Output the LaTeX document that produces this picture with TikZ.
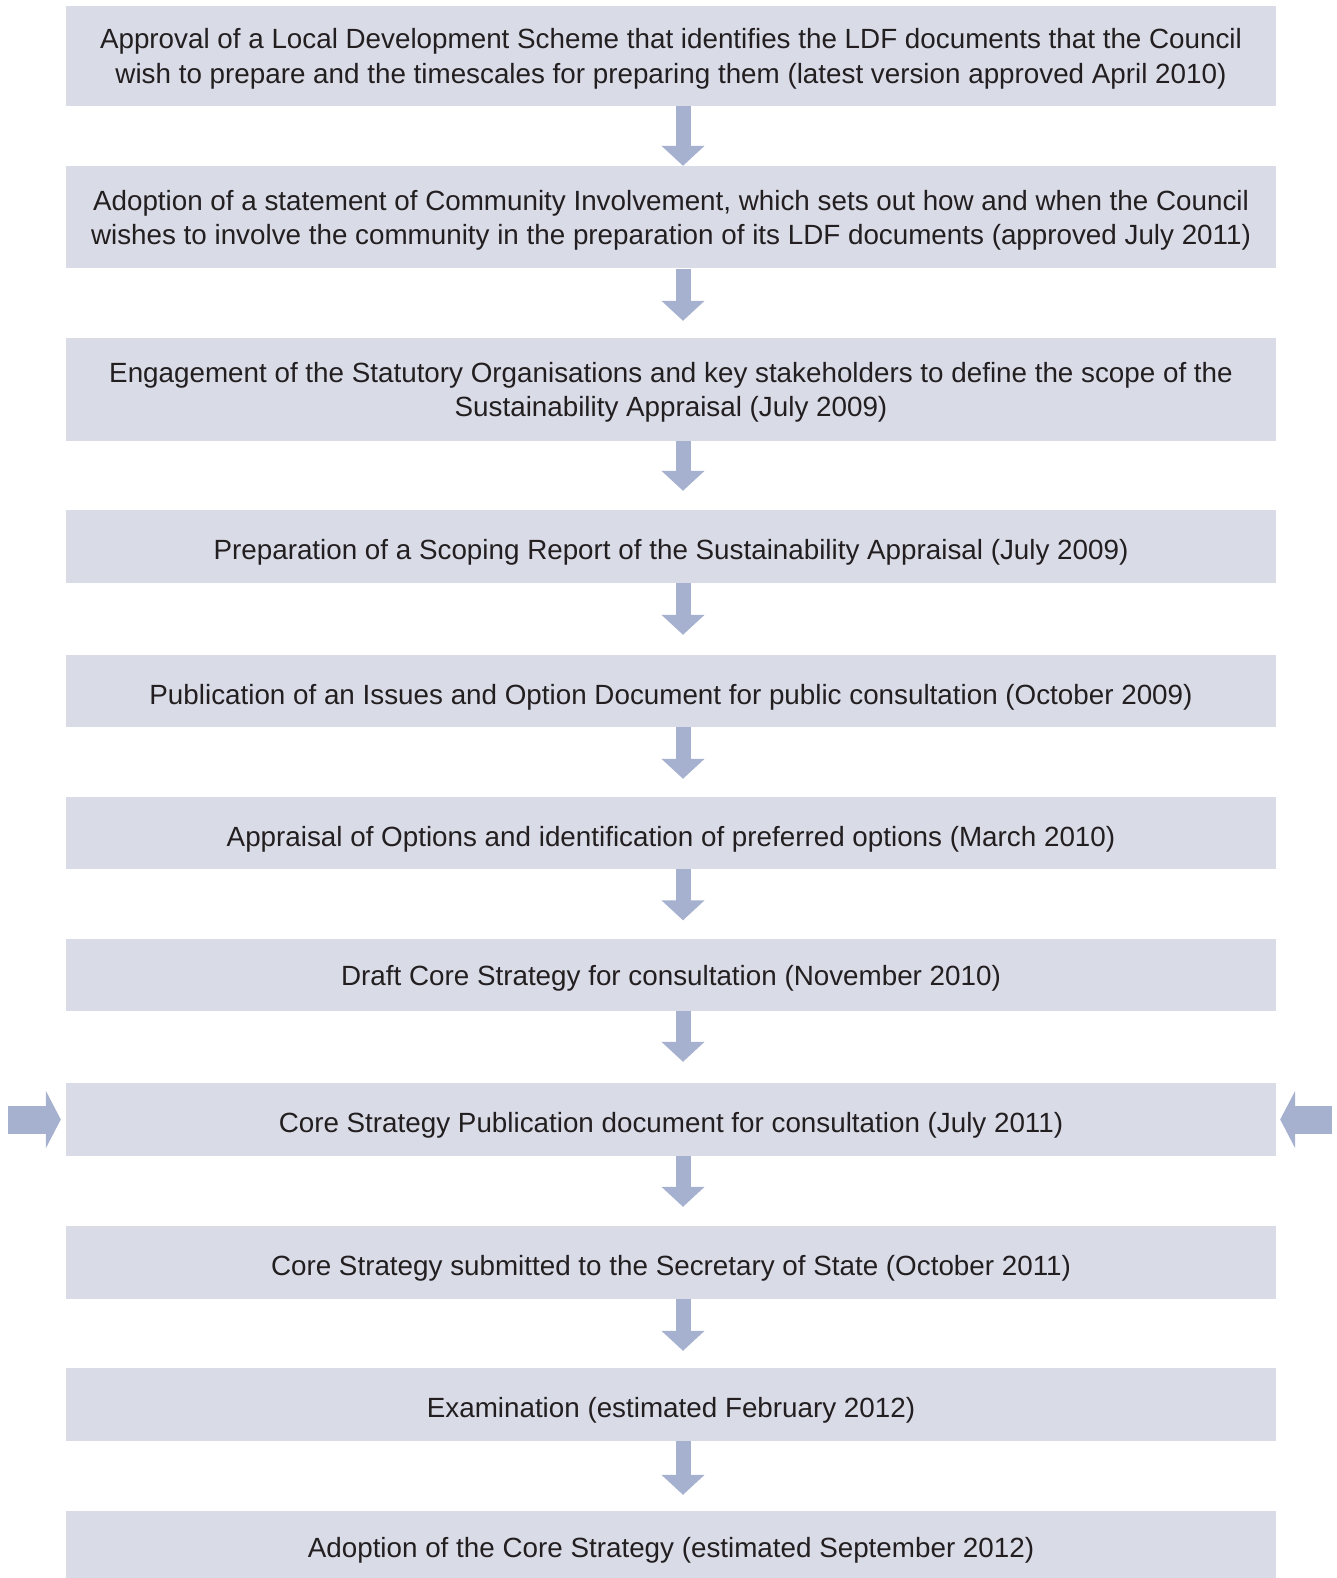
\documentclass[tikz,border=0pt]{standalone}
\usepackage{fontspec}
\setmainfont{Liberation Sans}
\usepackage{tikz}
\usetikzlibrary{arrows.meta}
\definecolor{boxfill}{HTML}{D9DBE7}
\definecolor{arrowfill}{HTML}{A6B0CF}
\definecolor{textcol}{HTML}{231F20}

\tikzset{
  stage/.style={fill=boxfill,minimum width=1210pt,inner sep=0pt,align=center,
    text=textcol,text depth=0pt,font=\fontsize{27.8}{34.2}\selectfont},
  oneline/.style={stage,text height=26pt},
  downarrow/.style={draw=arrowfill,line width=15pt,
    -{Triangle[width=42pt,length=20pt,fill=arrowfill]}},
  sidearrow/.style={draw=arrowfill,line width=28pt,
    -{Triangle[width=57pt,length=15pt,fill=arrowfill]}}
}

\begin{document}
\begin{tikzpicture}[x=1pt,y=-1pt]
        \useasboundingbox (0,0) rectangle (1337,1578);
        \coordinate (axis) at (683,0);
        \node[stage,minimum height=100pt] (s1) at (671,56) {Approval of a Local Development Scheme that identifies the LDF documents that the Council\\wish to prepare and the timescales for preparing them (latest version approved April 2010)};
        \node[stage,minimum height=102.5pt] (s2) at (671,217.25) {Adoption of a statement of Community Involvement, which sets out how and when the Council\\wishes to involve the community in the preparation of its LDF documents (approved July 2011)};
        \node[stage,minimum height=103pt] (s3) at (671,389.5) {Engagement of the Statutory Organisations and key stakeholders to define the scope of the\\Sustainability Appraisal (July 2009)};
        \node[oneline,minimum height=72.5pt] (s4) at (671,546.25) {Preparation of a Scoping Report of the Sustainability Appraisal (July 2009)};
        \node[oneline,minimum height=72pt] (s5) at (671,691) {Publication of an Issues and Option Document for public consultation (October 2009)};
        \node[oneline,minimum height=72pt] (s6) at (671,833) {Appraisal of Options and identification of preferred options (March 2010)};
        \node[stage,minimum height=72pt] (s7) at (671,975) {Draft Core Strategy for consultation (November 2010)};
        \node[oneline,minimum height=73pt] (s8) at (671,1119.5) {Core Strategy Publication document for consultation (July 2011)};
        \node[oneline,minimum height=73pt] (s9) at (671,1262.5) {Core Strategy submitted to the Secretary of State (October 2011)};
        \node[oneline,minimum height=73pt] (s10) at (671,1404.5) {Examination (estimated February 2012)};
        \node[oneline,minimum height=67pt] (s11) at (671,1544.5) {Adoption of the Core Strategy (estimated September 2012)};
        % arrows between stages
        \draw[downarrow](s1.south -| axis)--(s2.north -| axis);
        \draw[downarrow,shorten >=17pt](s2.south -| axis)--(s3.north -| axis);
        \draw[downarrow,shorten >=19pt](s3.south -| axis)--(s4.north -| axis);
        \draw[downarrow,shorten >=20pt](s4.south -| axis)--(s5.north -| axis);
        \draw[downarrow,shorten >=18pt](s5.south -| axis)--(s6.north -| axis);
        \draw[downarrow,shorten >=18.5pt](s6.south -| axis)--(s7.north -| axis);
        \draw[downarrow,shorten >=21pt](s7.south -| axis)--(s8.north -| axis);
        \draw[downarrow,shorten >=19pt](s8.south -| axis)--(s9.north -| axis);
        \draw[downarrow,shorten >=17pt](s9.south -| axis)--(s10.north -| axis);
        \draw[downarrow,shorten >=16pt](s10.south -| axis)--(s11.north -| axis);
        % side arrows
        \coordinate (lin) at (8,1119.5);
        \coordinate (rin) at (1332,1119.5);
        \draw[sidearrow,shorten >=5pt](lin)--(s8.west);
        \draw[sidearrow,shorten >=4pt](rin)--(s8.east);
\end{tikzpicture}
\end{document}
